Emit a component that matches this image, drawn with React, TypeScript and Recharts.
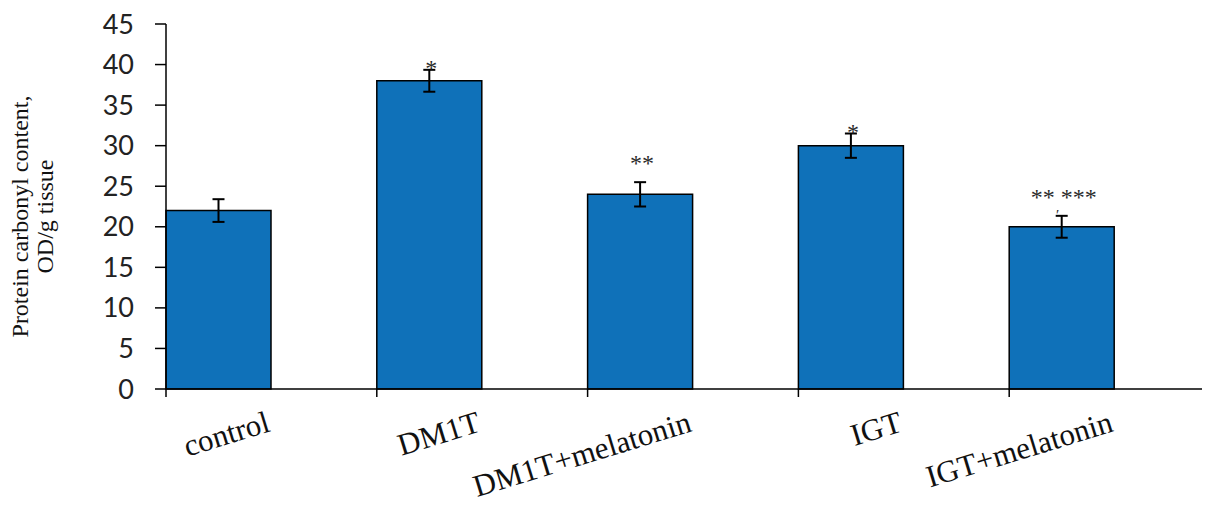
import React from 'react';
import { BarChart, Bar, XAxis, YAxis, ErrorBar, LabelList, Label } from 'recharts';

const groups = ['control', 'DM1T', 'DM1T+melatonin', 'IGT', 'IGT+melatonin'];
const carbonyl = [22, 38, 24, 30, 20];
const carbonylSE = [1.4, 1.35, 1.5, 1.5, 1.35];
const significance = ['', '*', '**', '*', '** ***'];
const sigNote = ['', '', '', '', '′'];
const yTicks = [0, 5, 10, 15, 20, 25, 30, 35, 40, 45];

// second (empty) series keeps each bar in the left half of its category, as in the source
const data = groups.map((group, i) => ({
  group,
  value: carbonyl[i],
  se: carbonylSE[i],
  sig: significance[i],
  note: sigNote[i],
  spacer: 0,
}));

const SERIF = '"Liberation Serif", "Times New Roman", serif';
const TICK_SIZE = 8;

const GroupTick = (props: any) => {
  const { x, y, payload } = props;
  const half = payload.offset ?? 0;
  return (
    <g>
      <line x1={x - half} y1={y - TICK_SIZE} x2={x - half} y2={y} stroke="#000" strokeWidth={1.5} />
      <text
        x={x}
        y={y + 34}
        textAnchor="end"
        transform={`rotate(-17, ${x}, ${y + 34})`}
        fontFamily={SERIF}
        fontSize={31}
        fill="#111"
      >
        {payload.value}
      </text>
    </g>
  );
};

const SigLabel = (props: any) => {
  const { x, y, width, height, value, index } = props;
  if (!value) return null;
  const pxPerUnit = height / carbonyl[index];
  const errTop = y - carbonylSE[index] * pxPerUnit;
  const cx = x + width / 2;
  const baseline = value.length > 1 ? errTop - 11 : errTop + 6;
  const note = sigNote[index];
  return (
    <g>
      <text x={cx + 2} y={baseline} textAnchor="middle" fontFamily={SERIF} fontSize={24} fill="#2a2a2a">
        {value}
      </text>
      {note && (
        <text x={cx - 4} y={errTop + 4} textAnchor="middle" fontFamily={SERIF} fontSize={15} fill="#2a2a2a">
          {note}
        </text>
      )}
    </g>
  );
};

const YTitle = (props: any) => {
  const { viewBox } = props;
  const cy = viewBox.y + viewBox.height / 2 + 10;
  return (
    <g fontFamily={SERIF} fontSize={24} fill="#111">
      <text x={20} y={cy} textAnchor="middle" transform={`rotate(-90, 20, ${cy})`}>
        Protein carbonyl content,
      </text>
      <text x={45} y={cy} textAnchor="middle" transform={`rotate(-90, 45, ${cy})`}>
        OD/g tissue
      </text>
    </g>
  );
};

export default function App() {
  return (
    <div style={{ width: 1202, height: 497, overflow: 'hidden' }}>
      <BarChart
        width={1212}
        height={497}
        data={data}
        margin={{ top: 16, right: 0, bottom: 0, left: 0 }}
        barCategoryGap={0}
        barGap={0}
      >
        <XAxis
          dataKey="group"
          interval={0}
          height={116}
          tickLine={false}
          tickSize={TICK_SIZE}
          tickMargin={0}
          axisLine={{ stroke: '#000', strokeWidth: 1.5 }}
          tick={<GroupTick />}
        />
        <YAxis
          width={158}
          domain={[0, 45]}
          ticks={yTicks}
          interval={0}
          tickSize={11}
          tickMargin={21}
          axisLine={{ stroke: '#000', strokeWidth: 1.5 }}
          tickLine={{ stroke: '#000', strokeWidth: 1.5 }}
          tick={{ fontFamily: 'Lato, "Open Sans", sans-serif', fontSize: 27, fill: '#222' }}
        >
          <Label content={<YTitle />} />
        </YAxis>
        <Bar dataKey="value" fill="#0f71b9" stroke="#000" strokeWidth={1.5} isAnimationActive={false}>
          <ErrorBar dataKey="se" width={6} stroke="#000" strokeWidth={2} direction="y" />
          <LabelList dataKey="sig" content={<SigLabel />} />
        </Bar>
        <Bar dataKey="spacer" fill="none" stroke="none" isAnimationActive={false} />
      </BarChart>
    </div>
  );
}
